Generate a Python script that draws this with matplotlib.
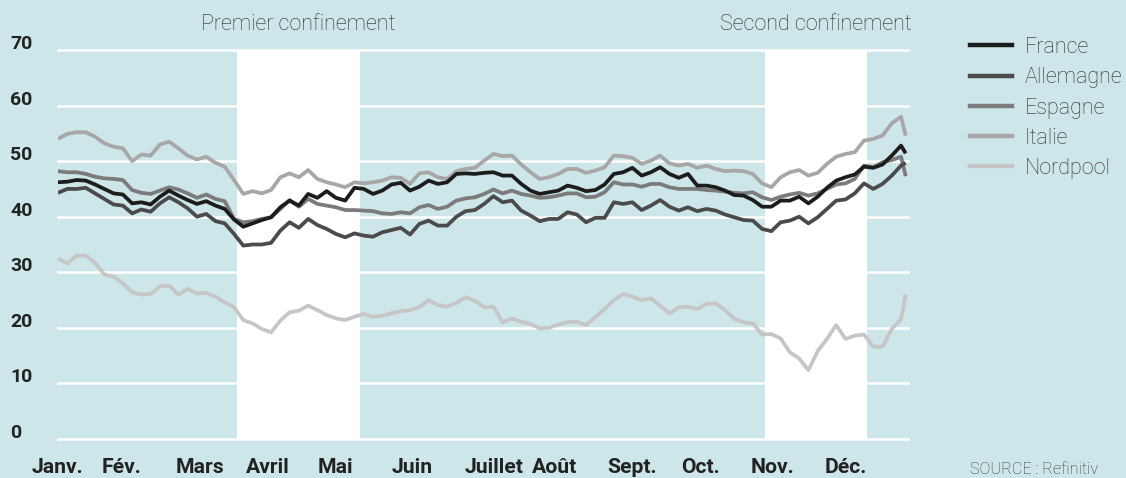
import matplotlib
matplotlib.use("Agg")
import matplotlib.pyplot as plt
from matplotlib.lines import Line2D

plt.rcParams['font.family'] = ['Roboto', 'DejaVu Sans']

# ---------------- data (day of year 2020, €/MWh) ----------------
days = list(range(0, 365, 4)) + [366]

france = [46.2, 46.3, 46.6, 46.5, 45.8, 45.0, 44.2, 44.0, 42.4, 42.6, 42.2, 43.6, 44.7, 43.8, 43.0, 42.3, 42.8, 42.0, 41.4,
          39.5, 38.2, 38.8, 39.4, 39.9, 41.7, 42.9, 42.0, 44.1, 43.4, 44.6, 43.4, 42.9, 45.2, 45.0, 44.1, 44.7, 45.8, 46.1,
          44.7, 45.4, 46.5, 45.9, 46.2, 47.7, 47.8, 47.7, 47.9, 48.0, 47.4, 47.4, 45.9, 44.7, 44.1, 44.4, 44.7, 45.6,
          45.2, 44.6, 44.8, 45.8, 47.7, 48.0, 48.8, 47.4, 48.0, 48.9, 47.7, 47.0, 47.7, 45.6, 45.6, 45.3, 44.7, 43.9,
          43.8, 43.0, 41.8, 41.8, 42.9, 42.9, 43.6, 42.4, 43.6, 45.2, 46.5, 47.1, 47.6, 49.0, 48.8, 49.4, 51.0, 52.8, 51.4]

allemagne = [44.3, 45.0, 45.0, 45.2, 44.2, 43.2, 42.2, 42.0, 40.6, 41.3, 40.9, 42.4, 43.5, 42.6, 41.5, 40.0, 40.5, 39.2, 38.8,
             36.9, 34.8, 35.0, 35.0, 35.3, 37.5, 39.0, 38.0, 39.6, 38.5, 37.8, 36.9, 36.3, 37.0, 36.6, 36.4, 37.2, 37.6, 38.0,
             36.8, 38.7, 39.3, 38.4, 38.4, 40.0, 41.0, 41.2, 42.3, 43.7, 42.6, 42.9, 41.1, 40.2, 39.2, 39.6, 39.6, 40.8,
             40.4, 39.0, 39.8, 39.8, 42.6, 42.3, 42.6, 41.2, 42.0, 43.0, 41.8, 41.1, 41.7, 41.0, 41.4, 41.1, 40.4, 39.9,
             39.4, 39.3, 37.8, 37.4, 39.0, 39.3, 40.0, 38.8, 39.9, 41.4, 42.9, 43.1, 44.2, 46.0, 45.0, 45.9, 47.4, 49.2, 49.7]

espagne = [48.2, 48.0, 48.0, 47.7, 47.2, 46.9, 46.8, 46.6, 44.8, 44.3, 44.1, 44.7, 45.3, 44.9, 44.2, 43.4, 44.0, 43.2, 42.8,
           39.6, 39.0, 39.2, 39.6, 39.9, 41.4, 43.0, 41.8, 43.2, 42.3, 42.0, 41.7, 41.2, 41.2, 41.1, 41.0, 40.6, 40.5, 40.8,
           40.6, 41.7, 42.1, 41.4, 41.8, 42.9, 43.3, 43.5, 44.1, 44.9, 44.2, 44.7, 44.1, 43.8, 43.4, 43.5, 43.8, 44.2,
           44.2, 43.5, 43.6, 44.4, 46.2, 45.8, 45.8, 45.4, 45.9, 45.9, 45.3, 45.0, 45.0, 45.0, 44.8, 44.7, 44.5, 44.3,
           44.2, 44.4, 43.5, 43.0, 43.6, 44.0, 44.3, 43.8, 44.2, 45.0, 45.8, 46.0, 46.8, 49.2, 48.9, 49.8, 50.2, 50.8, 47.3]

italie = [54.0, 54.9, 55.2, 55.2, 54.4, 53.2, 52.6, 52.3, 50.0, 51.2, 51.0, 53.0, 53.5, 52.3, 51.0, 50.3, 50.8, 49.7, 49.0,
          46.6, 44.1, 44.6, 44.2, 44.8, 47.1, 47.8, 47.1, 48.4, 46.8, 46.2, 45.8, 45.3, 46.2, 46.0, 46.2, 46.5, 47.1, 47.0,
          45.9, 47.8, 48.0, 47.1, 46.8, 48.2, 48.6, 48.8, 50.1, 51.3, 50.9, 51.0, 49.4, 48.0, 46.8, 47.1, 47.7, 48.6,
          48.6, 47.9, 48.3, 48.9, 51.0, 50.9, 50.6, 49.5, 50.1, 51.0, 49.6, 49.2, 49.5, 48.8, 49.2, 48.6, 48.2, 48.3,
          48.2, 47.7, 46.0, 45.3, 47.1, 48.0, 48.4, 47.4, 47.9, 49.5, 50.8, 51.3, 51.6, 53.7, 54.0, 54.6, 56.8, 58.0, 54.6]

nordpool = [32.5, 31.6, 33.0, 33.0, 31.7, 29.6, 29.2, 28.0, 26.4, 26.0, 26.1, 27.5, 27.6, 26.0, 27.0, 26.2, 26.3, 25.6, 24.6,
            23.7, 21.4, 20.8, 19.8, 19.2, 21.3, 22.8, 23.1, 24.0, 23.2, 22.3, 21.7, 21.4, 22.0, 22.5, 22.0, 22.2, 22.6, 23.0,
            23.2, 23.7, 25.0, 24.1, 23.8, 24.5, 25.5, 24.9, 23.7, 23.8, 21.0, 21.7, 21.1, 20.7, 19.9, 20.0, 20.6, 21.0,
            21.1, 20.5, 21.9, 23.4, 25.0, 26.1, 25.6, 25.0, 25.3, 24.0, 22.6, 23.7, 23.8, 23.4, 24.3, 24.4, 23.2, 21.6,
            21.0, 20.8, 18.8, 18.9, 18.1, 15.6, 14.5, 12.4, 15.8, 18.0, 20.5, 18.0, 18.6, 18.8, 16.6, 16.6, 19.8, 21.5, 26.0]

series_names = ['France', 'Allemagne', 'Espagne', 'Italie', 'Nordpool']
series_values = [france, allemagne, espagne, italie, nordpool]
series_colors = ['#1c1c1c', '#4b4b4b', '#7b7b7b', '#a7a7a7', '#c6c6c6']

month_labels = ['Janv.', 'Fév.', 'Mars', 'Avril', 'Mai', 'Juin', 'Juillet', 'Août',
                'Sept.', 'Oct.', 'Nov.', 'Déc.']
month_pos = [0, 27.6, 61.3, 90.7, 120.0, 152.8, 188.3, 214.6, 247.8, 277.2, 308.7, 340.2]
y_ticks = [0, 10, 20, 30, 40, 50, 60, 70]

lockdown_start = [77.5, 305.2]
lockdown_end = [130.2, 349.3]
lockdown_labels = ['Premier confinement', 'Second confinement']

# ---------------- figure ----------------
BG = '#cde6e9'
W, H = 1126, 478
fig = plt.figure(figsize=(W / 100, H / 100), dpi=100, facecolor=BG)
ax = fig.add_axes([58 / W, 1 - 439 / H, 850 / W, 389 / H])
ax.set_facecolor(BG)
ax.set_xlim(0, 367)
ax.set_ylim(0, 70)
for s in ax.spines.values():
    s.set_visible(False)

for a, b, lab in zip(lockdown_start, lockdown_end, lockdown_labels):
    ax.axvspan(a, b, color='white', lw=0, zorder=0)
    ax.annotate(lab, xy=((a + b) / 2, 70), xytext=(0, 20), textcoords='offset pixels',
                ha='center', va='baseline', fontsize=15.5, fontweight='light',
                color='#2a2a2a', annotation_clip=False)

for v in y_ticks:
    ax.axhline(v, color='white', lw=1.8, zorder=1, clip_on=False)
    ax.annotate(str(v), xy=(0, v), xycoords=('axes fraction', 'data'), xytext=(-48, 6),
                textcoords='offset pixels', ha='left', va='center', fontsize=14,
                fontweight='bold', color='#222222', annotation_clip=False)

for name, vals, col, z in zip(series_names[::-1], series_values[::-1], series_colors[::-1], range(5)):
    ax.plot(days, vals, color=col, lw=2.7, zorder=3 + z, solid_joinstyle='round',
            solid_capstyle='butt')

ax.set_yticks([])
ax.set_xticks(month_pos)
ax.set_xticklabels(month_labels, fontsize=15.2, fontweight='bold', color='#222222')
ax.tick_params(axis='x', length=0, pad=13.5)

handles = [Line2D([], [], color=c, lw=3.2) for c in series_colors]
leg = fig.legend(handles, series_names, loc='upper left',
                 bbox_to_anchor=(970 / W, 1 - 37 / H), frameon=False,
                 prop={'size': 15.5, 'weight': 'light'}, handlelength=1.95,
                 handletextpad=0.58, labelspacing=0.43, borderpad=0, borderaxespad=0)
for t in leg.get_texts():
    t.set_color('#2a2a2a')

fig.text(1098 / W, 1 - 474 / H, 'SOURCE : Refinitiv', ha='right', va='baseline',
         fontsize=11.7, fontweight='light', color='#333333')

fig.savefig('out.png', dpi=100, facecolor=BG)
